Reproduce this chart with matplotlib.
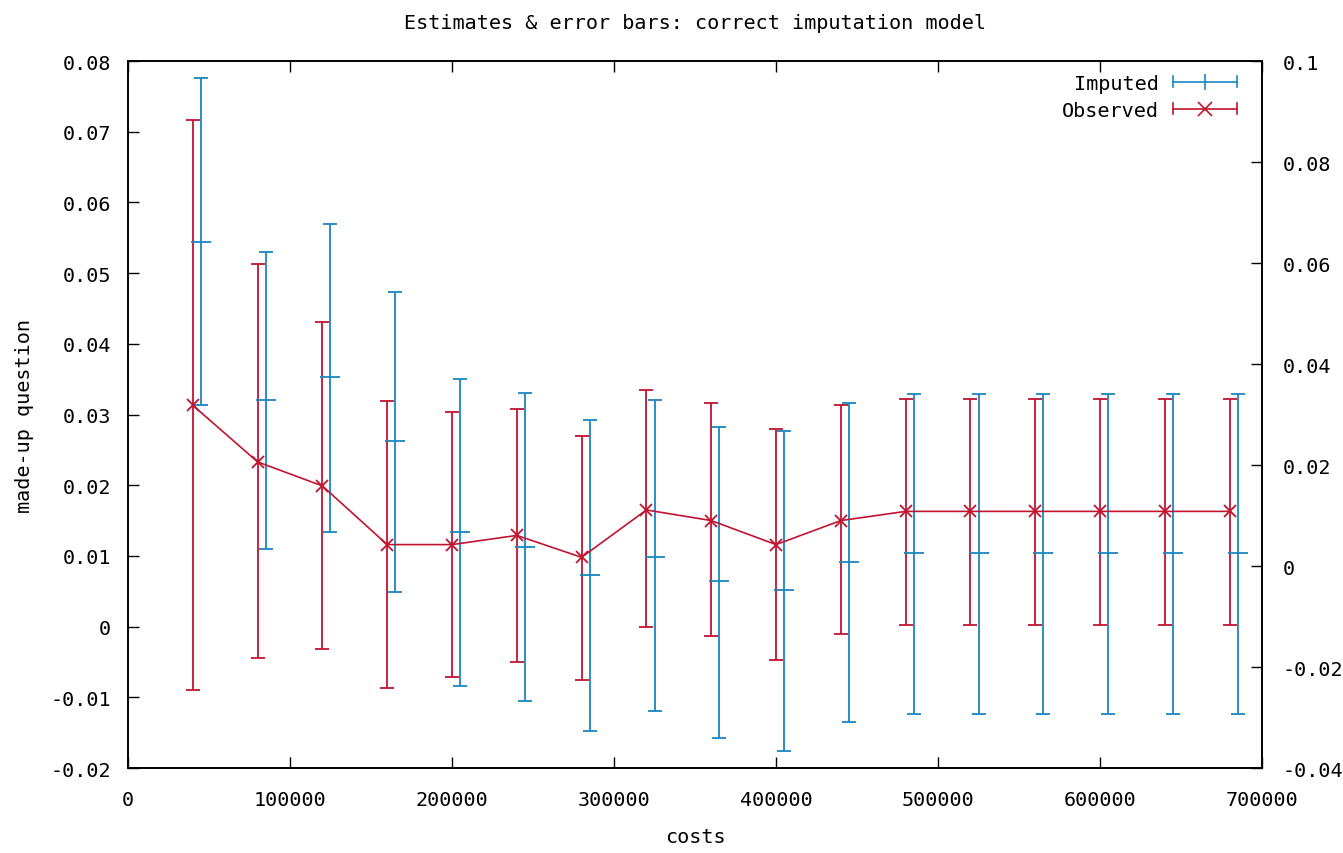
import matplotlib
matplotlib.use("Agg")
import matplotlib.pyplot as plt
from matplotlib.lines import Line2D
from matplotlib.legend_handler import HandlerBase
from matplotlib.ticker import FormatStrFormatter

plt.rcParams['font.family'] = ['DejaVu Sans Mono']
plt.rcParams['axes.unicode_minus'] = False

# data
costs_obs = [40000, 80000, 120000, 160000, 200000, 240000, 280000, 320000, 360000,
             400000, 440000, 480000, 520000, 560000, 600000, 640000, 680000]
costs_imp = [45000, 85000, 125000, 165000, 205000, 245000, 285000, 325000, 365000,
             405000, 445000, 485000, 525000, 565000, 605000, 645000, 685000]

obs_mean = [0.0313, 0.0233, 0.0199, 0.0116, 0.0116, 0.0129, 0.0098, 0.0165, 0.0150,
            0.0116, 0.0150, 0.0163, 0.0163, 0.0163, 0.0163, 0.0163, 0.0163]
obs_hi = [0.0717, 0.0513, 0.0431, 0.0319, 0.0304, 0.0308, 0.0270, 0.0335, 0.0316,
          0.0280, 0.0313, 0.0322, 0.0322, 0.0322, 0.0322, 0.0322, 0.0322]
obs_lo = [-0.0090, -0.0044, -0.0032, -0.0087, -0.0071, -0.0050, -0.0075, -0.0001, -0.0013,
          -0.0047, -0.0010, 0.0002, 0.0002, 0.0002, 0.0002, 0.0002, 0.0002]

imp_mean = [0.0544, 0.0320, 0.0353, 0.0262, 0.0134, 0.0113, 0.0073, 0.0098, 0.0064,
            0.0052, 0.0092, 0.0104, 0.0104, 0.0104, 0.0104, 0.0104, 0.0104]
imp_hi = [0.0776, 0.0530, 0.0569, 0.0473, 0.0350, 0.0331, 0.0292, 0.0320, 0.0283,
          0.0276, 0.0316, 0.0329, 0.0329, 0.0329, 0.0329, 0.0329, 0.0329]
imp_lo = [0.0313, 0.0110, 0.0134, 0.0049, -0.0084, -0.0105, -0.0148, -0.0120, -0.0158,
          -0.0176, -0.0135, -0.0124, -0.0124, -0.0124, -0.0124, -0.0124, -0.0124]

y1_ticks = [-0.02, -0.01, 0, 0.01, 0.02, 0.03, 0.04, 0.05, 0.06, 0.07, 0.08]
y2_ticks = [-0.04, -0.02, 0, 0.02, 0.04, 0.06, 0.08, 0.1]
x_ticks = [0, 100000, 200000, 300000, 400000, 500000, 600000, 700000]

BLUE = '#1a86c0'
RED = '#c01430'
FS = 14.5


class GnuErrHandler(HandlerBase):
    # gnuplot style key sample: |---+---| with a point in the middle
    def __init__(self, color, marker, ms):
        super().__init__()
        self.color = color
        self.marker = marker
        self.ms = ms

    def create_artists(self, legend, orig_handle, xdescent, ydescent,
                       width, height, fontsize, trans):
        y = height / 2 - ydescent
        x0, x1 = -xdescent, width - xdescent
        h = height * 0.4
        arts = [
            Line2D([x0, x1], [y, y], color=self.color, lw=1.2),
            Line2D([x0, x0], [y - h, y + h], color=self.color, lw=1.2),
            Line2D([x1, x1], [y - h, y + h], color=self.color, lw=1.2),
            Line2D([(x0 + x1) / 2], [y], marker=self.marker, ms=self.ms,
                   color=self.color, mew=1.2, ls='none'),
        ]
        for a in arts:
            a.set_transform(trans)
        return arts


fig = plt.figure(figsize=(13.43, 8.54), dpi=100)
ax = fig.add_axes([0.0953, 0.0995, 0.8444, 0.8279])

err_imp = [[m - l for m, l in zip(imp_mean, imp_lo)],
           [h - m for m, h in zip(imp_mean, imp_hi)]]
err_obs = [[m - l for m, l in zip(obs_mean, obs_lo)],
           [h - m for m, h in zip(obs_mean, obs_hi)]]

h_imp = ax.errorbar(costs_imp, imp_mean, yerr=err_imp, fmt='_', ms=14, mew=1.3,
                    color=BLUE, ecolor=BLUE, elinewidth=1.3, capsize=5, capthick=1.3)
h_obs = ax.errorbar(costs_obs, obs_mean, yerr=err_obs, fmt='-x', ms=9, mew=1.3, lw=1.2,
                    color=RED, ecolor=RED, elinewidth=1.3, capsize=5, capthick=1.3)

ax.set_xlim(0, 700000)
ax.set_ylim(-0.02, 0.08)
ax.set_xticks(x_ticks)
ax.set_yticks(y1_ticks)
ax.xaxis.set_major_formatter(FormatStrFormatter('%d'))
ax.yaxis.set_major_formatter(FormatStrFormatter('%g'))
ax.tick_params(axis='x', direction='in', length=8, width=1, top=True, labelsize=FS, pad=16)
ax.tick_params(axis='y', direction='in', length=8, width=1, right=False, labelsize=FS, pad=12)

ax2 = ax.twinx()
ax2.set_ylim(-0.04, 0.1)
ax2.set_yticks(y2_ticks)
ax2.yaxis.set_major_formatter(FormatStrFormatter('%g'))
ax2.tick_params(axis='y', direction='in', length=8, width=1, labelsize=FS, pad=15)

for a in (ax, ax2):
    for s in a.spines.values():
        s.set_linewidth(1.2)

ax.set_title('Estimates & error bars: correct imputation model', fontsize=FS, pad=24)
ax.set_xlabel('costs', fontsize=FS, labelpad=13)
ax.set_ylabel('made-up question', fontsize=FS, labelpad=12)

ax.legend([h_imp, h_obs], ['Imputed', 'Observed'],
          handler_map={h_imp: GnuErrHandler(BLUE, '|', 12),
                       h_obs: GnuErrHandler(RED, 'x', 10)},
          loc='upper right', bbox_to_anchor=(0.978, 0.982), frameon=False,
          markerfirst=False, fontsize=FS, handlelength=3.2, handletextpad=0.7,
          borderaxespad=0, borderpad=0, labelspacing=0.4)

fig.savefig('out.png', dpi=100)
